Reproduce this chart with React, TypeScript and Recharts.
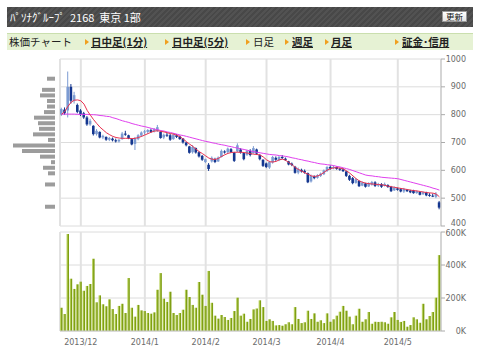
import React from 'react';
import { ComposedChart, BarChart, Bar, Line, XAxis, YAxis, CartesianGrid } from 'recharts';

const dates = [
  '2013/11/22','2013/11/25','2013/11/26','2013/11/27','2013/11/28','2013/11/29',
  '2013/12/02','2013/12/03','2013/12/04','2013/12/05','2013/12/06','2013/12/09','2013/12/10','2013/12/11','2013/12/12','2013/12/13','2013/12/16','2013/12/17','2013/12/18','2013/12/19','2013/12/20','2013/12/24','2013/12/25','2013/12/26','2013/12/27','2013/12/30',
  '2014/01/06','2014/01/07','2014/01/08','2014/01/09','2014/01/10','2014/01/14','2014/01/15','2014/01/16','2014/01/17','2014/01/20','2014/01/21','2014/01/22','2014/01/23','2014/01/24','2014/01/27','2014/01/28','2014/01/29','2014/01/30','2014/01/31',
  '2014/02/03','2014/02/04','2014/02/05','2014/02/06','2014/02/07','2014/02/10','2014/02/12','2014/02/13','2014/02/14','2014/02/17','2014/02/18','2014/02/19','2014/02/20','2014/02/21','2014/02/24','2014/02/25','2014/02/26','2014/02/27','2014/02/28',
  '2014/03/03','2014/03/04','2014/03/05','2014/03/06','2014/03/07','2014/03/10','2014/03/11','2014/03/12','2014/03/13','2014/03/14','2014/03/17','2014/03/18','2014/03/19','2014/03/20','2014/03/24','2014/03/25','2014/03/26','2014/03/27','2014/03/28','2014/03/31',
  '2014/04/01','2014/04/02','2014/04/03','2014/04/04','2014/04/07','2014/04/08','2014/04/09','2014/04/10','2014/04/11','2014/04/14','2014/04/15','2014/04/16','2014/04/17','2014/04/18','2014/04/21','2014/04/22','2014/04/23','2014/04/24','2014/04/25','2014/04/28','2014/04/30',
  '2014/05/01','2014/05/02','2014/05/07','2014/05/08','2014/05/09','2014/05/12','2014/05/13','2014/05/14','2014/05/15','2014/05/16','2014/05/19','2014/05/20','2014/05/21','2014/05/22',
];

const opens = [
  800,818,815,900,850,835,815,805,790,765,
  760,730,738,718,720,710,714,708,704,712,
  732,726,712,695,712,725,736,738,745,740,
  742,738,718,728,726,712,726,722,714,700,
  686,665,680,665,652,630,620,632,640,632,
  648,668,665,676,664,668,675,662,656,670,
  662,675,655,638,625,610,628,645,636,648,
  642,632,624,613,592,602,598,590,560,578,
  573,580,586,598,612,608,612,606,603,596,
  580,572,555,562,545,553,542,548,557,545,
  550,544,547,541,528,535,532,524,530,527,
  528,518,522,514,520,512,509,505,485,
];
const highs = [
  825,826,955,910,882,840,820,810,795,785,
  762,748,740,728,722,720,718,714,712,738,
  742,728,714,720,730,740,745,748,750,752,
  763,740,732,736,732,734,730,725,716,702,
  688,690,682,668,655,642,626,650,645,650,
  675,672,682,680,666,697,680,664,674,676,
  687,678,658,640,628,634,652,650,652,655,
  646,634,628,616,610,606,603,592,585,582,
  586,592,603,615,618,617,614,609,608,598,
  584,576,572,564,560,555,557,562,561,555,
  554,556,550,544,542,538,536,537,533,530,
  530,527,524,524,523,518,516,522,490,
];
const lows = [
  795,800,790,840,840,805,795,785,760,760,
  725,725,715,712,706,705,704,700,700,710,
  724,712,690,673,708,720,728,732,734,736,
  738,714,712,720,706,710,716,710,696,686,
  660,660,660,646,634,626,598,628,626,630,
  646,660,660,662,630,665,660,636,652,650,
  660,655,636,612,608,605,624,634,633,640,
  634,618,615,588,586,592,588,554,556,568,
  570,576,583,594,602,604,602,598,594,576,
  562,550,552,540,543,538,540,545,540,540,
  537,542,537,522,526,527,521,519,522,518,
  516,516,510,512,507,505,504,500,460,
];
const closes = [
  820,805,900,850,870,810,800,790,765,778,
  730,742,718,724,710,716,708,704,710,732,
  728,715,693,715,726,736,740,745,738,748,
  755,716,728,725,710,728,720,712,700,690,
  663,684,664,650,638,640,605,645,630,646,
  670,664,678,665,634,690,664,640,670,655,
  680,660,640,616,612,630,648,638,648,644,
  637,621,619,591,604,596,592,557,580,572,
  582,588,600,612,606,612,605,602,597,580,
  566,554,568,543,556,541,553,558,544,550,
  541,551,540,525,538,530,524,533,525,521,
  518,525,512,521,510,508,506,515,466,
];
// volume in thousand shares
const volumes = [
  141,103,588,317,255,283,299,244,273,285,
  438,174,216,162,150,192,133,103,152,165,
  109,321,141,87,158,125,121,109,105,113,
  250,351,196,176,238,109,97,109,129,250,
  206,158,141,297,220,152,364,171,93,75,
  97,85,67,79,121,202,93,105,56,73,
  131,137,186,145,61,71,61,34,36,32,
  41,53,41,145,73,48,53,123,73,107,
  56,65,48,107,56,71,93,117,152,123,
  87,41,93,135,56,71,115,44,56,55,
  56,53,44,83,115,67,55,61,26,36,
  83,71,50,165,71,91,115,202,460,
];
const maShort = [
  801,812,830,845,852,853,850,838,815,798,
  782,768,755,745,735,728,722,718,716,715,
  715,715,714,715,718,722,727,732,737,741,
  742,740,738,735,732,730,726,721,712,703,
  694,686,676,667,660,652,644,640,639,643,
  650,656,661,664,665,665,665,664,662,660,
  658,657,655,648,638,631,630,632,638,640,
  636,628,620,610,603,597,591,586,580,578,
  580,585,593,601,606,609,609,608,605,598,
  590,580,570,562,557,554,552,551,550,549,
  548,546,543,541,539,537,535,533,531,529,
  527,526,524,522,520,519,518,515,505,
];
const maLong = [
  802,802,802,802,802,801,801,801,801,800,
  800,799,797,796,794,793,789,786,782,778,
  775,772,768,765,762,759,757,754,751,748,
  746,743,741,738,736,733,730,727,725,722,
  719,716,713,710,707,704,702,699,697,694,
  692,690,687,685,682,680,677,675,672,670,
  667,665,663,661,659,657,656,655,653,652,
  650,648,645,643,640,638,635,633,630,628,
  625,623,622,620,619,617,614,612,609,606,
  603,599,595,591,587,583,581,580,578,577,
  575,574,573,572,571,570,567,564,561,558,
  555,552,549,546,543,540,536,533,529,
];

const monthTicks = ['2013/12/02', '2014/01/06', '2014/02/03', '2014/03/03', '2014/04/01', '2014/05/01'];
const monthLabels = ['2013/12', '2014/1', '2014/2', '2014/3', '2014/4', '2014/5'];
const priceTicks = [400, 500, 600, 700, 800, 900, 1000];
const volumeTicks = [0, 200, 400, 600];

// volume by price (left histogram)
const vbpPrices = [930, 850, 810, 790, 770, 750, 730, 710, 690, 670, 650, 630, 610, 590, 570, 550, 530, 510, 470];
const vbpVolumes = [600, 600, 420, 720, 240, 900, 1980, 2520, 420, 1320, 960, 1020, 1260, 660, 480, 480, 900, 780, 480];

const rows = dates.map((date, i) => ({
  date,
  open: opens[i],
  high: highs[i],
  low: lows[i],
  close: closes[i],
  volume: volumes[i],
  maShort: maShort[i],
  maLong: maLong[i],
}));
const vbpRows = vbpPrices.map((price, i) => ({ price, vol: vbpVolumes[i] }));

const FONT = '"DejaVu Sans", Verdana, sans-serif';
const JP = '"Noto Sans CJK JP", sans-serif';
const UP = '#7c9bd2';
const DOWN = '#14368f';
const GRID = '#dcdcdc';
const AXIS_TEXT = '#6a6a6a';

const Candle = (props: any) => {
  const { x, y, width, height, payload } = props;
  if (!payload || x == null || y == null) return null;
  const { open, high, low, close } = payload;
  const top = Math.min(y, y + height);
  const h = Math.abs(height);
  const px = (v: number) => (high === low ? top : top + ((high - v) / (high - low)) * h);
  const cx = x + width / 2;
  const color = close >= open ? UP : DOWN;
  const bTop = px(Math.max(open, close));
  const bBot = px(Math.min(open, close));
  return (
    <g>
      <line x1={cx} x2={cx} y1={top} y2={top + h} stroke={color} strokeWidth={1} />
      <rect x={x} y={bTop} width={width} height={Math.max(1, bBot - bTop)} fill={color} />
    </g>
  );
};

const RightTick = (props: any) => {
  const { x, y, payload, suffix, nudge } = props;
  const dy = nudge && nudge[payload.value] ? nudge[payload.value] : 0;
  return (
    <text x={x + 19} y={y + dy} textAnchor="end" dominantBaseline="central" fontSize={8} fill={AXIS_TEXT} fontFamily={FONT}>
      {payload.value}
      {suffix || ''}
    </text>
  );
};

const Tri = ({ left }: { left: number }) => (
  <div
    style={{
      position: 'absolute',
      left,
      top: 39,
      width: 0,
      height: 0,
      borderTop: '3px solid transparent',
      borderBottom: '3px solid transparent',
      borderLeft: '4px solid #f0a020',
    }}
  />
);

const NavText = ({ left, text, link }: { left: number; text: string; link: boolean }) => (
  <div
    style={{
      position: 'absolute',
      left,
      top: 35,
      height: 14,
      lineHeight: '14px',
      fontSize: 10.5,
      fontFamily: JP,
      color: '#222',
      fontWeight: link ? 'bold' : 'normal',
      textDecoration: link ? 'underline' : 'none',
      whiteSpace: 'nowrap',
    }}
  >
    {text}
  </div>
);

export default function App() {
  return (
    <div style={{ position: 'absolute', left: 0, top: 0, width: 480, height: 360, background: '#fff', overflow: 'hidden' }}>
      {/* header */}
      <div
        style={{
          position: 'absolute',
          left: 7,
          top: 7,
          width: 466,
          height: 20,
          background: 'repeating-linear-gradient(135deg, #525252 0px, #525252 2px, #484848 2px, #484848 4px)',
        }}
      >
        <div style={{ position: 'absolute', left: 3, top: 0, height: 20, lineHeight: '20px', color: '#fff', fontSize: 11, fontFamily: JP, whiteSpace: 'pre' }}>
          {'ﾊﾟｿﾅｸﾞﾙｰﾌﾟ  2168  東京 1部'}
        </div>
        <div
          style={{
            position: 'absolute',
            left: 435,
            top: 4,
            width: 25,
            height: 11,
            background: 'linear-gradient(#ffffff, #e4e4e4)',
            border: '1px solid #999',
            boxSizing: 'border-box',
            fontSize: 8.5,
            lineHeight: '9px',
            textAlign: 'center',
            fontFamily: JP,
            color: '#111',
          }}
        >
          更新
        </div>
      </div>
      {/* nav bar */}
      <div style={{ position: 'absolute', left: 7, top: 33, width: 466, height: 17, background: '#e6f2d4', borderTop: '1px solid #cadfae', boxSizing: 'border-box' }} />
      <NavText left={9} text="株価チャート" link={false} />
      <Tri left={85} />
      <NavText left={91} text="日中足(1分)" link={true} />
      <Tri left={165} />
      <NavText left={172} text="日中足(5分)" link={true} />
      <Tri left={246} />
      <NavText left={253} text="日足" link={false} />
      <Tri left={285} />
      <NavText left={292} text="週足" link={true} />
      <Tri left={325} />
      <NavText left={331} text="月足" link={true} />
      <Tri left={395} />
      <NavText left={402} text="証金･信用" link={true} />

      {/* volume by price */}
      <div style={{ position: 'absolute', left: 0, top: 50 }}>
        <BarChart layout="vertical" width={56} height={182} data={vbpRows} margin={{ top: 9, right: 1, bottom: 6, left: 13 }}>
          <XAxis type="number" hide reversed domain={[0, 2520]} />
          <YAxis type="number" dataKey="price" hide domain={[400, 1000]} />
          <Bar dataKey="vol" barSize={4} fill="#9c9c9c" isAnimationActive={false} />
        </BarChart>
      </div>

      {/* price chart */}
      <div style={{ position: 'absolute', left: 0, top: 50 }}>
        <ComposedChart width={480} height={182} data={rows} margin={{ top: 9, right: 0, bottom: 6, left: 60 }}>
          <XAxis dataKey="date" type="category" hide ticks={monthTicks} interval={0} />
          <YAxis yAxisId="left" orientation="left" width={0} tick={false} tickLine={false} axisLine={{ stroke: GRID }} />
          <YAxis
            yAxisId="price"
            orientation="right"
            width={39}
            domain={[400, 1000]}
            ticks={priceTicks}
            interval={0}
            tickSize={4}
            tickMargin={2}
            tickLine={{ stroke: '#aaa' }}
            axisLine={{ stroke: '#c8c8c8' }}
            tick={<RightTick nudge={{ 400: -2.5 }} />}
          />
          <CartesianGrid yAxisId="price" vertical={false} stroke={GRID} />
          <CartesianGrid yAxisId="price" horizontal={false} stroke="#e2e2e2" strokeWidth={2} />
          <Bar yAxisId="price" dataKey={(d: any) => [d.low, d.high]} barSize={2.6} shape={<Candle />} isAnimationActive={false} />
          <Line yAxisId="price" type="linear" dataKey="maLong" stroke="#e040ee" strokeWidth={1} dot={false} isAnimationActive={false} />
          <Line yAxisId="price" type="linear" dataKey="maShort" stroke="#e8304f" strokeWidth={1} dot={false} isAnimationActive={false} />
        </ComposedChart>
      </div>

      {/* volume chart */}
      <div style={{ position: 'absolute', left: 0, top: 226 }}>
        <ComposedChart width={480} height={134} data={rows} margin={{ top: 6, right: 0, bottom: 9, left: 60 }}>
          <defs>
            <linearGradient id="volGrad" x1="0" y1="0" x2="1" y2="0">
              <stop offset="0" stopColor="#cddf86" />
              <stop offset="0.4" stopColor="#a9c446" />
              <stop offset="0.6" stopColor="#7f9f14" />
              <stop offset="1" stopColor="#7f9f14" />
            </linearGradient>
          </defs>
          <XAxis
            dataKey="date"
            type="category"
            ticks={monthTicks}
            interval={0}
            height={20}
            tickLine={false}
            axisLine={{ stroke: '#c8c8c8' }}
            tickFormatter={(v: string) => monthLabels[monthTicks.indexOf(v)]}
            tick={{ fontSize: 8, fill: AXIS_TEXT, fontFamily: FONT }}
          />
          <YAxis yAxisId="left" orientation="left" width={0} tick={false} tickLine={false} axisLine={{ stroke: GRID }} />
          <YAxis
            yAxisId="vol"
            orientation="right"
            width={39}
            domain={[0, 600]}
            ticks={volumeTicks}
            interval={0}
            tickSize={4}
            tickMargin={2}
            tickLine={{ stroke: '#aaa' }}
            axisLine={{ stroke: '#c8c8c8' }}
            tick={<RightTick suffix="K" nudge={{ 600: 1.5 }} />}
          />
          <CartesianGrid yAxisId="vol" vertical={false} stroke={GRID} />
          <CartesianGrid yAxisId="vol" horizontal={false} stroke="#e2e2e2" strokeWidth={2} />
          <Bar yAxisId="vol" dataKey="volume" barSize={2.6} fill="url(#volGrad)" isAnimationActive={false} />
        </ComposedChart>
      </div>
    </div>
  );
}
